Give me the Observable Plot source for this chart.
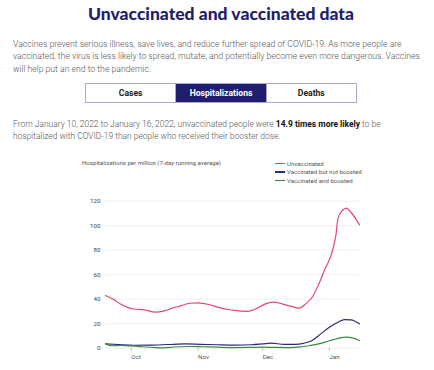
<!DOCTYPE html>
<html><head><meta charset="utf-8">
<script src="https://cdn.jsdelivr.net/npm/d3@7"></script>
<script src="https://cdn.jsdelivr.net/npm/@observablehq/plot@0.6"></script>
<style>
body{margin:0;width:434px;height:370px;overflow:hidden;background:#fff;font-family:Roboto,sans-serif;position:relative}
.abs{position:absolute;white-space:nowrap}
#title{left:0;width:442px;text-align:center;top:3px;font-family:Lato;font-weight:900;font-size:17.5px;color:#1f1e6c}
.p{left:13px;font-size:9px;line-height:12.3px;color:#555;font-weight:300}
#p1{top:38px}
#p2{top:119px;line-height:11.8px}
#p2 b{color:#111;font-weight:700}
#tabs{left:85px;top:83px;width:270px;height:18px;border:1px solid #a9a9c9;display:flex}
#tabs div{flex:1;text-align:center;font-weight:700;font-size:8.6px;line-height:18px;color:#222}
#tabs div.on{background:#1f1e6c;color:#fff}
#tabs div+div{border-left:1px solid #a9a9c9}
#ylab{left:82px;top:159px;font-size:6.1px;color:#555}
#legend{left:275px;top:159px;font-size:6.1px;color:#555}
#legend div{height:8.6px;line-height:7px;display:flex;align-items:center}
#legend span.sw{display:inline-block;width:10px;height:1.5px;margin-right:2px}
#chart{left:0;top:190px}
</style></head><body>
<div id="title" class="abs">Unvaccinated and vaccinated data</div>
<div id="p1" class="abs p"><span>Vaccines prevent serious illness, save lives, and reduce further spread of COVID-19. As more people are</span><br><span id="p1l2">vaccinated, the virus is less likely to spread, mutate, and potentially become even more dangerous. Vaccines</span><br><span>will help put an end to the pandemic.</span></div>
<div id="tabs" class="abs"><div>Cases</div><div class="on">Hospitalizations</div><div>Deaths</div></div>
<div id="p2" class="abs p"><span id="p2l1">From January 10, 2022 to January 16, 2022, unvaccinated people were <b>14.9 times more likely</b> to be</span><br><span>hospitalized with COVID-19 than people who received their booster dose.</span></div>
<div id="ylab" class="abs">Hospitalizations per million (7-day running average)</div>
<div id="legend" class="abs"></div>
<div id="chart" class="abs"></div>
<script>
const seriesNames = ["Unvaccinated", "Vaccinated but not boosted", "Vaccinated and boosted"];
const seriesColors = ["#e2476f", "#2a2c7c", "#3a8a3a"];
const yTicks = [0, 20, 40, 60, 80, 100, 120];
const xTickDates = ["2021-10-01", "2021-11-01", "2021-12-01", "2022-01-01"];

const unvacDates = ["2021-09-19","2021-09-23","2021-09-26","2021-09-29","2021-10-02","2021-10-07","2021-10-12","2021-10-16","2021-10-20","2021-10-24","2021-10-28","2021-11-01","2021-11-06","2021-11-10","2021-11-15","2021-11-18","2021-11-24","2021-11-28","2021-12-02","2021-12-06","2021-12-10","2021-12-14","2021-12-18","2021-12-21","2021-12-24","2021-12-27","2021-12-30","2022-01-02","2022-01-04","2022-01-05","2022-01-07","2022-01-09","2022-01-11","2022-01-15"];
const unvacValues = [43,39.5,36,33.5,32,31.3,29.4,30.2,32.7,34.6,36.7,37,35.7,33.5,31.6,30.8,30,32.2,36,37.6,36.2,34.3,32.7,36.2,41.6,52,64.8,77,92,105.6,112.4,114.3,111,100.7];

const notBoostedDates = ["2021-09-19","2021-09-25","2021-10-02","2021-10-10","2021-10-18","2021-10-26","2021-11-02","2021-11-10","2021-11-18","2021-11-26","2021-12-01","2021-12-05","2021-12-11","2021-12-16","2021-12-20","2021-12-24","2021-12-28","2022-01-01","2022-01-05","2022-01-08","2022-01-11","2022-01-15"];
const notBoostedValues = [3.6,3,2.4,2.5,3,3.5,3.2,2.8,2.5,2.8,3.5,4.1,3.2,3.2,4,6.3,11.7,17.1,21.2,23.4,23.2,19.9];

const boostedDates = ["2021-09-19","2021-09-22","2021-09-26","2021-10-01","2021-10-06","2021-10-12","2021-10-16","2021-10-21","2021-10-28","2021-11-03","2021-11-10","2021-11-17","2021-11-25","2021-12-01","2021-12-07","2021-12-14","2021-12-19","2021-12-23","2021-12-27","2021-12-31","2022-01-03","2022-01-06","2022-01-09","2022-01-12","2022-01-15"];
const boostedValues = [3.5,2,2.2,1.8,1.2,0.5,0.3,1,1.4,1.2,0.8,0.5,0.6,0.8,0.6,0.5,1.2,2.2,3.5,5.5,7,8.5,9,8.2,6.3];

// fit paragraph font sizes to the reference line widths
function fit(parId, lineId, target) {
  const p = document.getElementById(parId), l = document.getElementById(lineId);
  const fs = parseFloat(getComputedStyle(p).fontSize);
  const w = l.getBoundingClientRect().width;
  p.style.fontSize = (fs * target / w).toFixed(2) + "px";
}
fit("p1", "p1l2", 407);
fit("p2", "p2l1", 368);

const parse = d3.utcParse("%Y-%m-%d");
const rows = [];
[[unvacDates, unvacValues], [notBoostedDates, notBoostedValues], [boostedDates, boostedValues]].forEach(([ds, vs], i) => {
  ds.forEach((d, j) => rows.push({date: parse(d), value: vs[j], series: seriesNames[i]}));
});

const legend = document.getElementById("legend");
seriesNames.forEach((n, i) => {
  const row = document.createElement("div");
  row.innerHTML = `<span class="sw" style="background:${seriesColors[i]}"></span>${n}`;
  legend.appendChild(row);
});

const chart = Plot.plot({
  width: 434,
  height: 180,
  marginLeft: 105,
  marginRight: 75,
  marginTop: 10.7,
  marginBottom: 22.3,
  style: {fontFamily: "Roboto, sans-serif", fontSize: "6px", color: "#444", background: "transparent"},
  x: {type: "utc", domain: [parse("2021-09-19"), parse("2022-01-15")], label: null},
  y: {domain: [0, 120], label: null},
  color: {domain: seriesNames, range: seriesColors},
  marks: [
    Plot.gridY(yTicks, {stroke: "#ececec", strokeOpacity: 1, strokeWidth: 0.8}),
    Plot.axisY(yTicks, {tickSize: 0, tickPadding: 5, fontSize: 6.2, fill: "#444"}),
    Plot.axisX(xTickDates.map(parse), {tickSize: 3, tickPadding: 3, tickFormat: d3.utcFormat("%b"), textAnchor: "start", stroke: "#bbb", fill: "#555", fontSize: 6.2}),
    Plot.line(rows, {x: "date", y: "value", z: "series", stroke: "series", strokeWidth: 1.2, curve: "monotone-x"})
  ]
});
document.getElementById("chart").appendChild(chart);
</script>
</body></html>
